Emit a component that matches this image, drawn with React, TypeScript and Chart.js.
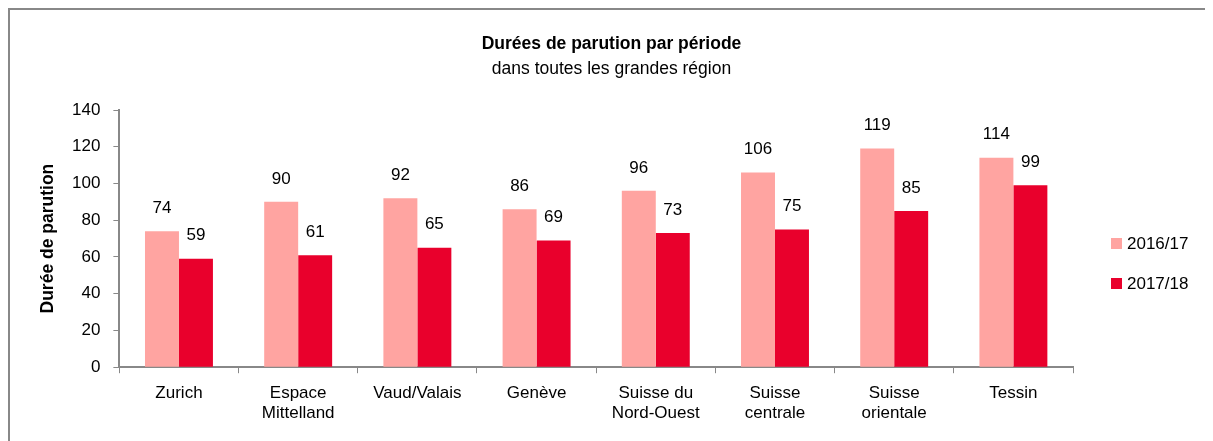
import React, { useEffect, useRef } from "react";
import { Chart, registerables } from "chart.js";

Chart.register(...registerables);

const categories: (string | string[])[] = [
  "Zurich",
  ["Espace", "Mittelland"],
  "Vaud/Valais",
  "Genève",
  ["Suisse du", "Nord-Ouest"],
  ["Suisse", "centrale"],
  ["Suisse", "orientale"],
  "Tessin",
];
const series2016: number[] = [74, 90, 92, 86, 96, 106, 119, 114];
const series2017: number[] = [59, 61, 65, 69, 73, 75, 85, 99];
const seriesLabels = ["2016/17", "2017/18"];
const colors = ["#FFA4A1", "#E9002C"];
const titleText = "Durées de parution par période";
const subtitleText = "dans toutes les grandes région";
const yTitle = "Durée de parution";

const FONT = "'Liberation Sans', Arial, sans-serif";

const dataLabels = {
  id: "dataLabels",
  afterDatasetsDraw(chart: any) {
    const ctx = chart.ctx;
    ctx.save();
    ctx.font = `17px ${FONT}`;
    ctx.fillStyle = "#000";
    ctx.textAlign = "center";
    ctx.textBaseline = "middle";
    chart.data.datasets.forEach((ds: any, i: number) => {
      const meta = chart.getDatasetMeta(i);
      meta.data.forEach((bar: any, j: number) => {
        ctx.fillText(String(ds.data[j]), bar.x, bar.y - 23);
      });
    });
    ctx.restore();
  },
};

const sideLegend = {
  id: "sideLegend",
  afterDraw(chart: any) {
    const ctx = chart.ctx;
    ctx.save();
    ctx.font = `17px ${FONT}`;
    ctx.textBaseline = "middle";
    ctx.textAlign = "left";
    const x = chart.chartArea.right + 38;
    const y0 = 233;
    chart.data.datasets.forEach((ds: any, i: number) => {
      const y = y0 + i * 40;
      ctx.fillStyle = ds.backgroundColor;
      ctx.fillRect(x, y - 5, 11, 11);
      ctx.fillStyle = "#000";
      ctx.fillText(ds.label, x + 16, y + 1);
    });
    ctx.restore();
  },
};

export default function App() {
  const ref = useRef<HTMLCanvasElement>(null);
  useEffect(() => {
    document.body.style.overflow = "hidden";
    const chart = new Chart(ref.current!, {
      type: "bar",
      data: {
        labels: categories,
        datasets: [
          { label: seriesLabels[0], data: series2016, backgroundColor: colors[0], barPercentage: 1, categoryPercentage: 0.57 },
          { label: seriesLabels[1], data: series2017, backgroundColor: colors[1], barPercentage: 1, categoryPercentage: 0.57 },
        ],
      },
      options: {
        animation: false,
        responsive: false,
        layout: { padding: { left: 24, right: 24, top: 0, bottom: 7 } },
        plugins: {
          title: {
            display: true,
            text: titleText,
            color: "#000",
            font: { family: FONT, size: 17.5, weight: "bold" },
            padding: { top: 24, bottom: 4 },
          },
          subtitle: {
            display: true,
            text: subtitleText,
            color: "#000",
            font: { family: FONT, size: 17.5 },
            padding: { top: 0, bottom: 30 },
          },
          legend: { display: false },
          tooltip: { enabled: false },
        },
        scales: {
          x: {
            grid: { display: true, drawOnChartArea: false, offset: true, color: "#888", tickLength: 6 },
            border: { color: "#888", width: 2 },
            ticks: { color: "#000", font: { family: FONT, size: 17 }, padding: 10, maxRotation: 0, autoSkip: false },
          },
          y: {
            min: 0,
            max: 140,
            ticks: { stepSize: 20, color: "#000", font: { family: FONT, size: 17 }, padding: 13 },
            grid: { display: true, drawOnChartArea: false, color: "#888", tickLength: 6 },
            border: { color: "#888", width: 2 },
            title: {
              display: true,
              text: yTitle,
              color: "#000",
              font: { family: FONT, size: 17.5, weight: "bold" },
              padding: { top: 4, bottom: 0 },
            },
          },
          legendSpace: {
            position: "right",
            display: true,
            grid: { display: false },
            border: { display: false },
            ticks: { display: false },
            afterFit(scale: any) {
              scale.width = 116;
            },
          },
        },
      },
      plugins: [dataLabels, sideLegend],
    });
    return () => chart.destroy();
  }, []);
  return (
    <div
      style={{
        width: 1205,
        height: 433,
        borderLeft: "2px solid #888",
        borderTop: "2px solid #888",
        boxSizing: "border-box",
        background: "#fff",
      }}
    >
      <canvas ref={ref} width={1203} height={431} style={{ display: "block" }} />
    </div>
  );
}
